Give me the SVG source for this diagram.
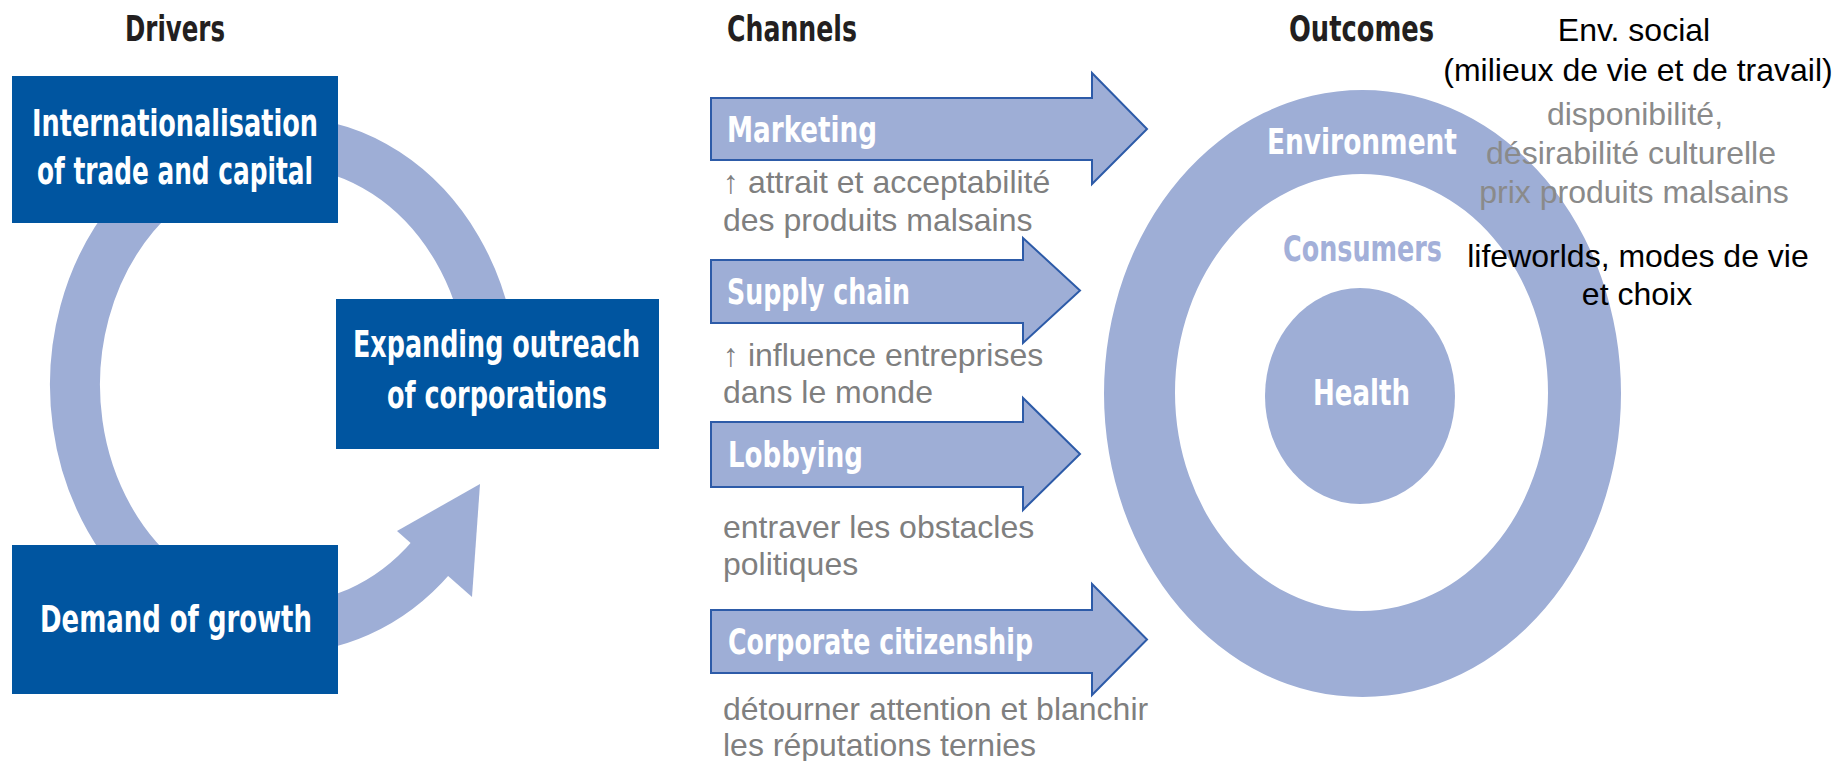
<svg xmlns="http://www.w3.org/2000/svg" width="1842" height="761" viewBox="0 0 1842 761">
<style>
.title{font-family:'Liberation Sans Narrow','DejaVu Sans Condensed','Liberation Sans',sans-serif;font-weight:bold;font-size:35px;fill:#231f20}
.box{fill:#0055a0}
.boxt{font-family:'Liberation Sans Narrow','DejaVu Sans Condensed','Liberation Sans',sans-serif;font-weight:bold;font-size:38px;fill:#ffffff}
.band{fill:#9eaed6}
.ch{fill:#9eaed6;stroke:#2d5ba8;stroke-width:2;stroke-linejoin:miter}
.cht{font-family:'Liberation Sans Narrow','DejaVu Sans Condensed','Liberation Sans',sans-serif;font-weight:bold;font-size:36px;fill:#ffffff}
.ringt{font-family:'Liberation Sans Narrow','DejaVu Sans Condensed','Liberation Sans',sans-serif;font-weight:bold;font-size:35px}
.note{font-family:'Liberation Sans',Arial,sans-serif;font-size:32px;fill:#7f7f7f}
.side{font-family:'Liberation Sans',Arial,sans-serif;font-size:32px;fill:#8a8a8a;text-anchor:middle}
.dark{fill:#000000}
</style>
<rect x="0" y="0" width="1842" height="761" fill="#ffffff"/>

<g id="titles">
<text class="title" x="125" y="41" textLength="100" lengthAdjust="spacingAndGlyphs">Drivers</text>
<text class="title" x="727" y="41" textLength="130" lengthAdjust="spacingAndGlyphs">Channels</text>
<text class="title" x="1289" y="41" textLength="145" lengthAdjust="spacingAndGlyphs">Outcomes</text>
</g>

<g id="connectors">
<path d="M489.8 342.8 A209 243 0 1 0 431.8 556.8" fill="none" stroke="#9eaed6" stroke-width="50"/>
<polygon class="band" points="397,531 480,484 472,597"/>
</g>

<g id="node-internationalisation">
<rect class="box" x="12" y="76" width="326" height="147"/>
<text class="boxt" x="32" y="136" textLength="286" lengthAdjust="spacingAndGlyphs">Internationalisation</text>
<text class="boxt" x="37" y="184" textLength="276" lengthAdjust="spacingAndGlyphs">of trade and capital</text>
</g>

<g id="node-expanding">
<rect class="box" x="336" y="299" width="323" height="150"/>
<text class="boxt" x="353" y="357" textLength="287" lengthAdjust="spacingAndGlyphs">Expanding outreach</text>
<text class="boxt" x="387" y="408" textLength="220" lengthAdjust="spacingAndGlyphs">of corporations</text>
</g>

<g id="node-demand">
<rect class="box" x="12" y="545" width="326" height="149"/>
<text class="boxt" x="40" y="632" textLength="272" lengthAdjust="spacingAndGlyphs">Demand of growth</text>
</g>

<g id="node-marketing">
<polygon class="ch" points="711,98 1092,98 1092,73 1147,129 1092,184 1092,160 711,160"/>
<text class="cht" x="727" y="142" textLength="150" lengthAdjust="spacingAndGlyphs">Marketing</text>
</g>
<g id="node-supply">
<polygon class="ch" points="711,260 1023,260 1023,238 1080,290.5 1023,343 1023,323 711,323"/>
<text class="cht" x="727" y="304" textLength="183" lengthAdjust="spacingAndGlyphs">Supply chain</text>
</g>
<g id="node-lobbying">
<polygon class="ch" points="711,422 1023,422 1023,398 1080,454 1023,510 1023,487 711,487"/>
<text class="cht" x="728" y="467" textLength="135" lengthAdjust="spacingAndGlyphs">Lobbying</text>
</g>
<g id="node-corporate">
<polygon class="ch" points="711,610 1092,610 1092,584 1147,639.5 1092,695 1092,673 711,673"/>
<text class="cht" x="728" y="654" textLength="305" lengthAdjust="spacingAndGlyphs">Corporate citizenship</text>
</g>

<g id="node-environment">
<path class="band" fill-rule="evenodd" d="M1104 393.5 A258.5 303.5 0 1 0 1621 393.5 A258.5 303.5 0 1 0 1104 393.5 Z M1175 392.5 A186.5 218.5 0 1 0 1548 392.5 A186.5 218.5 0 1 0 1175 392.5 Z"/>
<text class="ringt" x="1267" y="154" fill="#ffffff" textLength="190" lengthAdjust="spacingAndGlyphs">Environment</text>
</g>
<g id="node-consumers">
<text class="ringt" x="1283" y="261" fill="#a3b0d9" textLength="159" lengthAdjust="spacingAndGlyphs">Consumers</text>
</g>
<g id="node-health">
<ellipse class="band" cx="1360" cy="396" rx="95" ry="108"/>
<text class="ringt" x="1313" y="405" fill="#ffffff" textLength="97" lengthAdjust="spacingAndGlyphs">Health</text>
</g>

<g id="annotations">
<text class="note" x="723" y="193">↑ attrait et acceptabilité</text>
<text class="note" x="723" y="231">des produits malsains</text>
<text class="note" x="723" y="366">↑ influence entreprises</text>
<text class="note" x="723" y="403">dans le monde</text>
<text class="note" x="723" y="538">entraver les obstacles</text>
<text class="note" x="723" y="575">politiques</text>
<text class="note" x="723" y="720">détourner attention et blanchir</text>
<text class="note" x="723" y="756">les réputations ternies</text>
<text class="side dark" x="1634" y="41">Env. social</text>
<text class="side dark" x="1638" y="81">(milieux de vie et de travail)</text>
<text class="side" x="1635" y="125">disponibilité,</text>
<text class="side" x="1631" y="164">désirabilité culturelle</text>
<text class="side" x="1634" y="203">prix produits malsains</text>
<text class="side dark" x="1638" y="267">lifeworlds, modes de vie</text>
<text class="side dark" x="1637" y="305">et choix</text>
</g>
</svg>
